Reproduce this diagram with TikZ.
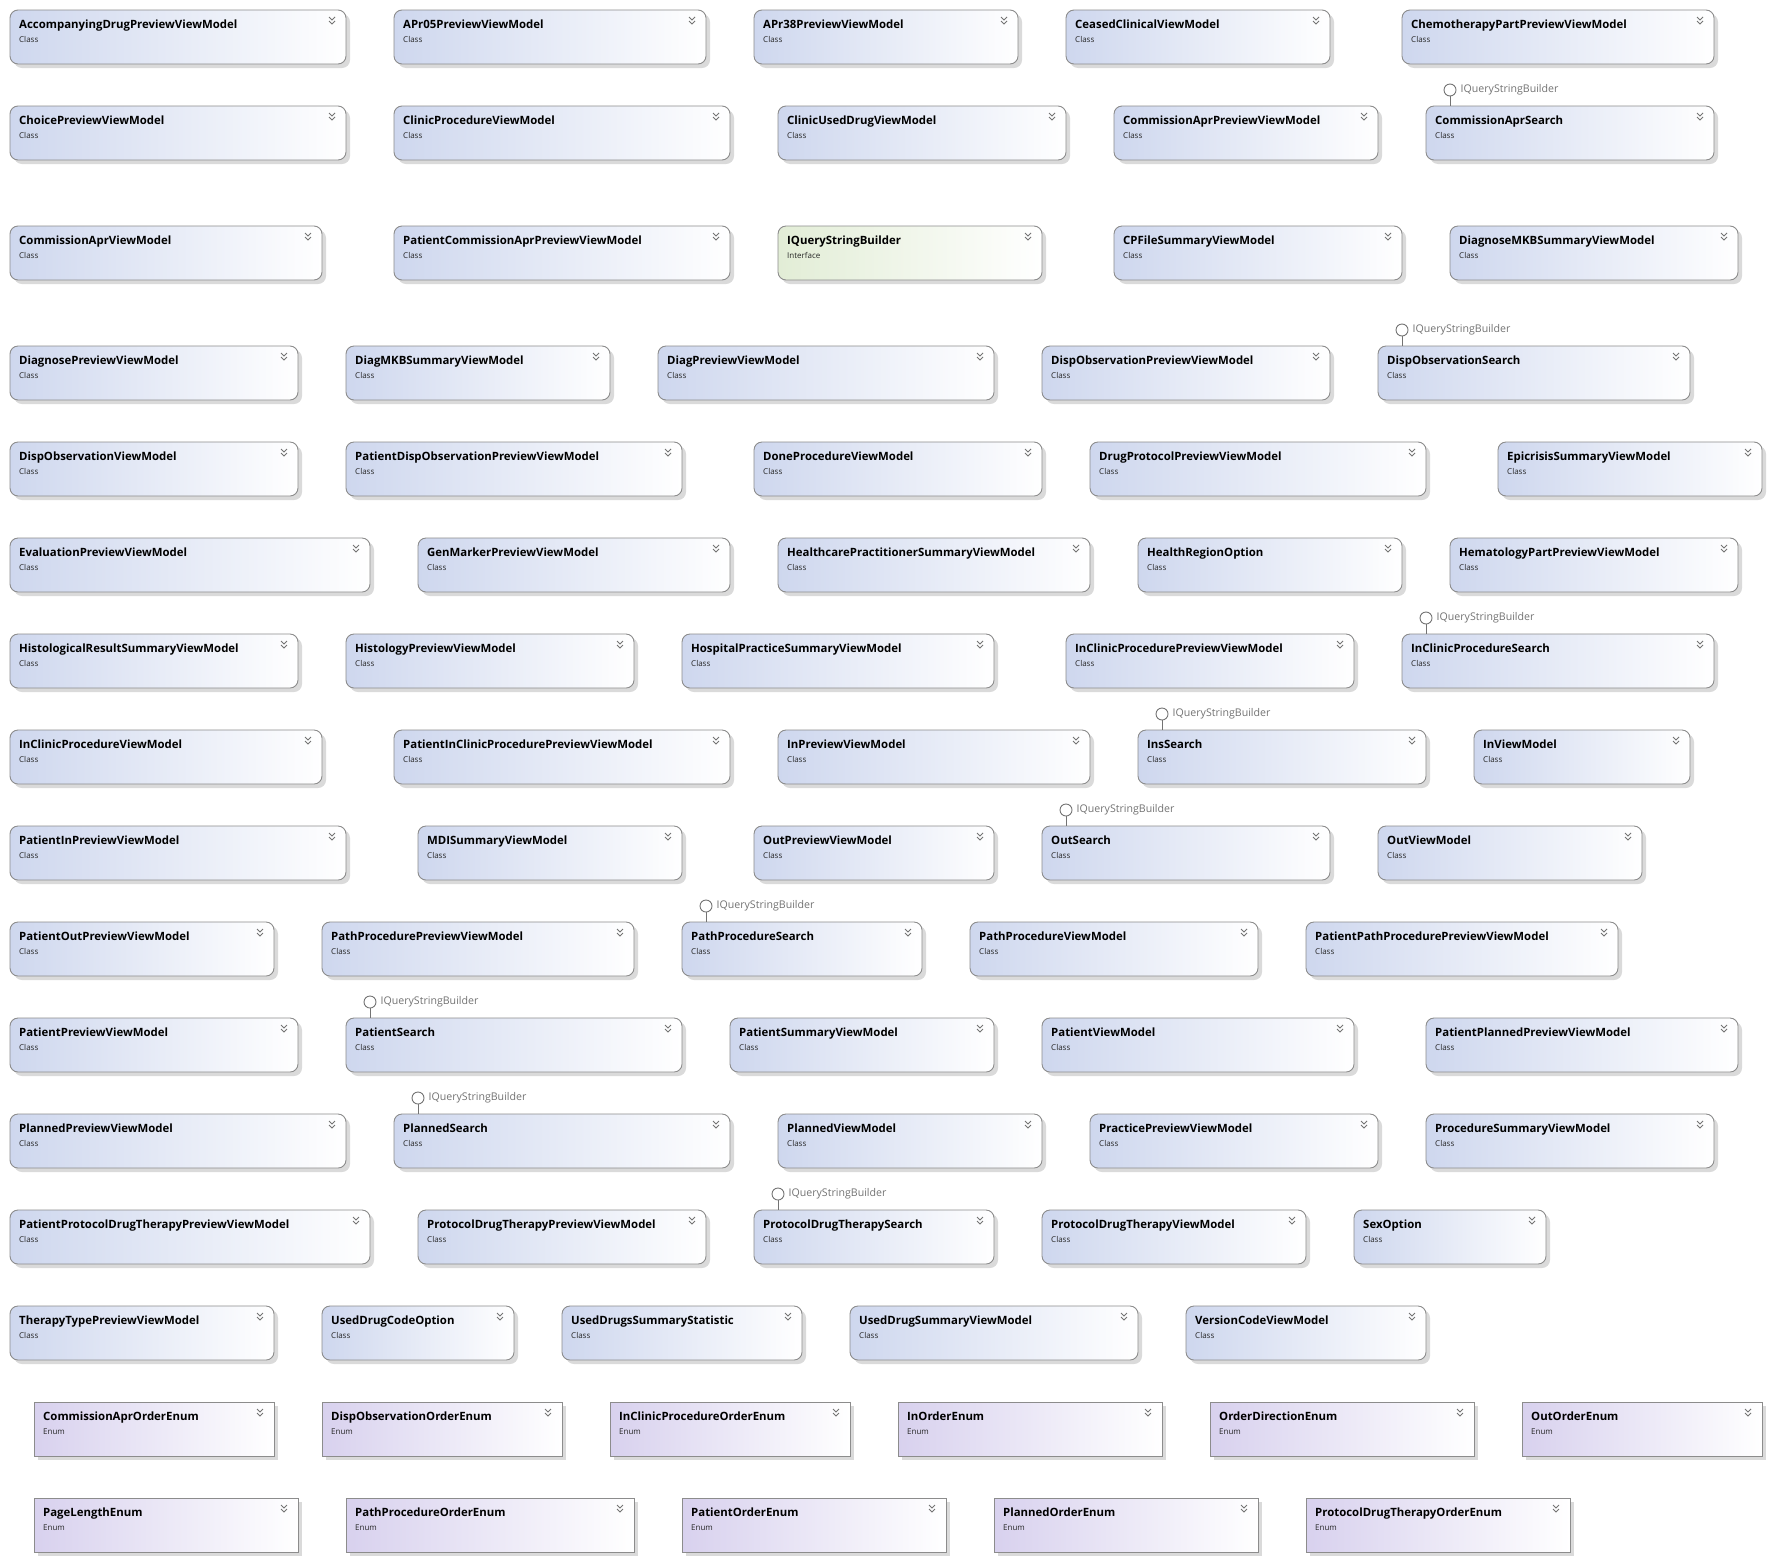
\documentclass[tikz,border=0pt]{standalone}
\usepackage{fontspec}
\setmainfont{Open Sans}
\usetikzlibrary{calc,shadows}
\definecolor{clsL}{RGB}{206,215,238}
\definecolor{intL}{RGB}{226,237,214}
\definecolor{enmL}{RGB}{216,209,238}
\definecolor{bordc}{RGB}{140,140,140}
\definecolor{shadc}{RGB}{218,218,218}
\tikzset{
  boxbase/.style={draw=bordc, line width=0.9pt, inner sep=0pt, outer sep=0pt,
    drop shadow={shadow xshift=4pt, shadow yshift=-4pt, fill=shadc, opacity=1}},
  clsbox/.style={boxbase, rounded corners=8pt, left color=clsL, right color=white},
  intbox/.style={boxbase, rounded corners=8pt, left color=intL, right color=white},
  enmbox/.style={boxbase, left color=enmL, right color=white},
  titletext/.style={inner sep=0pt, font=\fontsize{11.4}{13}\selectfont\bfseries, text=black},
  kindtext/.style={inner sep=0pt, font=\fontsize{8}{10}\selectfont, text=black!85},
  chev/.style={draw=black!55, line width=0.9pt},
  lolc/.style={circle, draw=black!55, line width=0.9pt, minimum size=12pt, inner sep=0pt, fill=white},
  lolline/.style={draw=black!55, line width=0.9pt},
  loltext/.style={inner sep=0pt, font=\fontsize{10.6}{12}\selectfont, text=black!55}
}
\newcommand\dbox[7]{%
  \node[#1, minimum width={24*(#4-#3)*1pt}, minimum height=54pt, anchor=north west] (#2) at ({10+24*#3},{10+24*#5}) {};
  \node[titletext, anchor=base west] (#2-t) at ($(#2.north west)+(9,18)$) {#6};
  \node[kindtext, anchor=base west] (#2-k) at ($(#2.north west)+(9,32)$) {#7};
  \draw[chev] ($(#2.north east)+(-17,7)$) -- ++(3,3) -- ++(3,-3);
  \draw[chev] ($(#2.north east)+(-17,11)$) -- ++(3,3) -- ++(3,-3);
}
\newcommand\cbox[5]{\dbox{clsbox}{#1}{#2}{#3}{#4}{#5}{Class}}
\newcommand\ebox[5]{\dbox{enmbox}{#1}{#2}{#3}{#4}{#5}{Enum}}
\newcommand\lolly[1]{%
  \node[lolc] (#1-c) at ($(#1.north west)+(24,-16)$) {};
  \draw[lolline] (#1-c.south) -- (#1-c.south |- #1.north);
  \node[loltext, anchor=west] (#1-l) at ($(#1-c.east)+(4,0)$) {IQueryStringBuilder};
}
\begin{document}
\begin{tikzpicture}[x=1pt,y=-1pt]
\useasboundingbox[fill=white] (0,0) rectangle (1771,1561);
% row 0
\cbox{a1}{0}{14}{0}{AccompanyingDrugPreviewViewModel}
\cbox{a2}{16}{29}{0}{APr05PreviewViewModel}
\cbox{a3}{31}{42}{0}{APr38PreviewViewModel}
\cbox{a4}{44}{55}{0}{CeasedClinicalViewModel}
\cbox{a5}{58}{71}{0}{ChemotherapyPartPreviewViewModel}
% row 4
\cbox{b1}{0}{14}{4}{ChoicePreviewViewModel}
\cbox{b2}{16}{30}{4}{ClinicProcedureViewModel}
\cbox{b3}{32}{44}{4}{ClinicUsedDrugViewModel}
\cbox{b4}{46}{57}{4}{CommissionAprPreviewViewModel}
\cbox{b5}{59}{71}{4}{CommissionAprSearch}
\lolly{b5}
% row 9
\cbox{c1}{0}{13}{9}{CommissionAprViewModel}
\cbox{c2}{16}{30}{9}{PatientCommissionAprPreviewViewModel}
\dbox{intbox}{c3}{32}{43}{9}{IQueryStringBuilder}{Interface}
\cbox{c4}{46}{58}{9}{CPFileSummaryViewModel}
\cbox{c5}{60}{72}{9}{DiagnoseMKBSummaryViewModel}
% row 14
\cbox{d1}{0}{12}{14}{DiagnosePreviewViewModel}
\cbox{d2}{14}{25}{14}{DiagMKBSummaryViewModel}
\cbox{d3}{27}{41}{14}{DiagPreviewViewModel}
\cbox{d4}{43}{55}{14}{DispObservationPreviewViewModel}
\cbox{d5}{57}{70}{14}{DispObservationSearch}
\lolly{d5}
% row 18
\cbox{e1}{0}{12}{18}{DispObservationViewModel}
\cbox{e2}{14}{28}{18}{PatientDispObservationPreviewViewModel}
\cbox{e3}{31}{43}{18}{DoneProcedureViewModel}
\cbox{e4}{45}{59}{18}{DrugProtocolPreviewViewModel}
\cbox{e5}{62}{73}{18}{EpicrisisSummaryViewModel}
% row 22
\cbox{f1}{0}{15}{22}{EvaluationPreviewViewModel}
\cbox{f2}{17}{30}{22}{GenMarkerPreviewViewModel}
\cbox{f3}{32}{45}{22}{HealthcarePractitionerSummaryViewModel}
\cbox{f4}{47}{58}{22}{HealthRegionOption}
\cbox{f5}{60}{72}{22}{HematologyPartPreviewViewModel}
% row 26
\cbox{g1}{0}{12}{26}{HistologicalResultSummaryViewModel}
\cbox{g2}{14}{26}{26}{HistologyPreviewViewModel}
\cbox{g3}{28}{41}{26}{HospitalPracticeSummaryViewModel}
\cbox{g4}{44}{56}{26}{InClinicProcedurePreviewViewModel}
\cbox{g5}{58}{71}{26}{InClinicProcedureSearch}
\lolly{g5}
% row 30
\cbox{h1}{0}{13}{30}{InClinicProcedureViewModel}
\cbox{h2}{16}{30}{30}{PatientInClinicProcedurePreviewViewModel}
\cbox{h3}{32}{45}{30}{InPreviewViewModel}
\cbox{h4}{47}{59}{30}{InsSearch}
\lolly{h4}
\cbox{h5}{61}{70}{30}{InViewModel}
% row 34
\cbox{i1}{0}{14}{34}{PatientInPreviewViewModel}
\cbox{i2}{17}{28}{34}{MDISummaryViewModel}
\cbox{i3}{31}{41}{34}{OutPreviewViewModel}
\cbox{i4}{43}{55}{34}{OutSearch}
\lolly{i4}
\cbox{i5}{57}{68}{34}{OutViewModel}
% row 38
\cbox{j1}{0}{11}{38}{PatientOutPreviewViewModel}
\cbox{j2}{13}{26}{38}{PathProcedurePreviewViewModel}
\cbox{j3}{28}{38}{38}{PathProcedureSearch}
\lolly{j3}
\cbox{j4}{40}{52}{38}{PathProcedureViewModel}
\cbox{j5}{54}{67}{38}{PatientPathProcedurePreviewViewModel}
% row 42
\cbox{k1}{0}{12}{42}{PatientPreviewViewModel}
\cbox{k2}{14}{28}{42}{PatientSearch}
\lolly{k2}
\cbox{k3}{30}{41}{42}{PatientSummaryViewModel}
\cbox{k4}{43}{56}{42}{PatientViewModel}
\cbox{k5}{59}{72}{42}{PatientPlannedPreviewViewModel}
% row 46
\cbox{l1}{0}{14}{46}{PlannedPreviewViewModel}
\cbox{l2}{16}{30}{46}{PlannedSearch}
\lolly{l2}
\cbox{l3}{32}{43}{46}{PlannedViewModel}
\cbox{l4}{45}{57}{46}{PracticePreviewViewModel}
\cbox{l5}{59}{71}{46}{ProcedureSummaryViewModel}
% row 50
\cbox{m1}{0}{15}{50}{PatientProtocolDrugTherapyPreviewViewModel}
\cbox{m2}{17}{29}{50}{ProtocolDrugTherapyPreviewViewModel}
\cbox{m3}{31}{41}{50}{ProtocolDrugTherapySearch}
\lolly{m3}
\cbox{m4}{43}{54}{50}{ProtocolDrugTherapyViewModel}
\cbox{m5}{56}{64}{50}{SexOption}
% row 54
\cbox{n1}{0}{11}{54}{TherapyTypePreviewViewModel}
\cbox{n2}{13}{21}{54}{UsedDrugCodeOption}
\cbox{n3}{23}{33}{54}{UsedDrugsSummaryStatistic}
\cbox{n4}{35}{47}{54}{UsedDrugSummaryViewModel}
\cbox{n5}{49}{59}{54}{VersionCodeViewModel}
% row 58 enums
\ebox{o1}{1}{11}{58}{CommissionAprOrderEnum}
\ebox{o2}{13}{23}{58}{DispObservationOrderEnum}
\ebox{o3}{25}{35}{58}{InClinicProcedureOrderEnum}
\ebox{o4}{37}{48}{58}{InOrderEnum}
\ebox{o5}{50}{61}{58}{OrderDirectionEnum}
\ebox{o6}{63}{73}{58}{OutOrderEnum}
% row 62 enums
\ebox{p1}{1}{12}{62}{PageLengthEnum}
\ebox{p2}{14}{26}{62}{PathProcedureOrderEnum}
\ebox{p3}{28}{39}{62}{PatientOrderEnum}
\ebox{p4}{41}{52}{62}{PlannedOrderEnum}
\ebox{p5}{54}{65}{62}{ProtocolDrugTherapyOrderEnum}
\end{tikzpicture}
\end{document}
